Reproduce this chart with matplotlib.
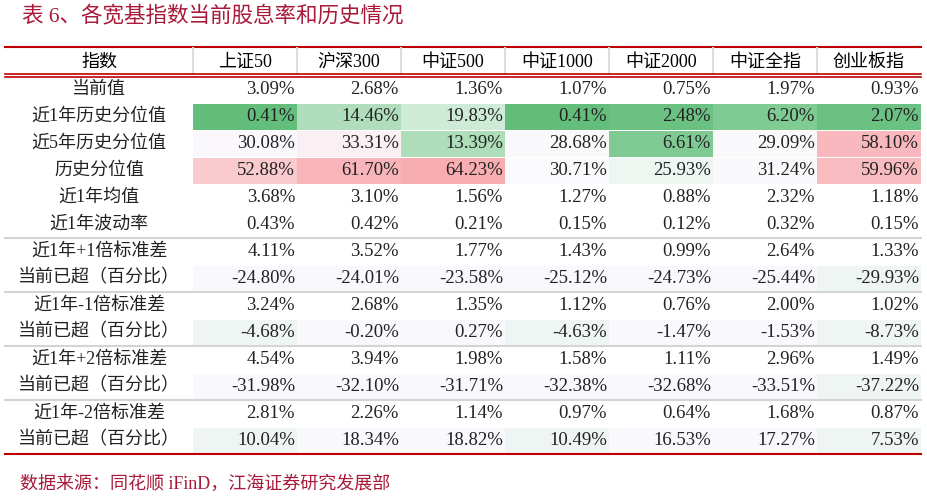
import matplotlib
matplotlib.use("Agg")
import matplotlib.pyplot as plt
from matplotlib.patches import Rectangle

FAM = ['Liberation Serif', 'Noto Sans CJK SC']
title = "表 6、各宽基指数当前股息率和历史情况"
source = "数据来源：同花顺 iFinD，江海证券研究发展部"
columns = ["上证50", "沪深300", "中证500", "中证1000", "中证2000", "中证全指", "创业板指"]
row_labels = ["当前值", "近1年历史分位值", "近5年历史分位值", "历史分位值", "近1年均值", "近1年波动率",
              "近1年+1倍标准差", "当前已超（百分比）", "近1年-1倍标准差", "当前已超（百分比）",
              "近1年+2倍标准差", "当前已超（百分比）", "近1年-2倍标准差", "当前已超（百分比）"]
values = [
    [3.09, 2.68, 1.36, 1.07, 0.75, 1.97, 0.93],
    [0.41, 14.46, 19.83, 0.41, 2.48, 6.20, 2.07],
    [30.08, 33.31, 13.39, 28.68, 6.61, 29.09, 58.10],
    [52.88, 61.70, 64.23, 30.71, 25.93, 31.24, 59.96],
    [3.68, 3.10, 1.56, 1.27, 0.88, 2.32, 1.18],
    [0.43, 0.42, 0.21, 0.15, 0.12, 0.32, 0.15],
    [4.11, 3.52, 1.77, 1.43, 0.99, 2.64, 1.33],
    [-24.80, -24.01, -23.58, -25.12, -24.73, -25.44, -29.93],
    [3.24, 2.68, 1.35, 1.12, 0.76, 2.00, 1.02],
    [-4.68, -0.20, 0.27, -4.63, -1.47, -1.53, -8.73],
    [4.54, 3.94, 1.98, 1.58, 1.11, 2.96, 1.49],
    [-31.98, -32.10, -31.71, -32.38, -32.68, -33.51, -37.22],
    [2.81, 2.26, 1.14, 0.97, 0.64, 1.68, 0.87],
    [10.04, 18.34, 18.82, 10.49, 16.53, 17.27, 7.53],
]
W, L, G = "#FFFFFF", "#F9F9FD", "#EFF5F2"
fills = [
    [W]*7,
    ["#63BE7B", "#B0DEBC", "#CDEBD6", "#63BE7B", "#6BC182", "#80CA94", "#6AC181"],
    ["#FAF8FC", "#FAEFF3", "#ADDDB9", "#F9F9FC", "#7FCA93", "#F9F9FC", "#F8B8BD"],
    ["#F9CBCF", "#F8B5B9", "#F8ADB1", "#FAF9FC", "#EEF6F1", "#F9F8FB", "#F8BBBF"],
    [W]*7, [W]*7, [W]*7,
    [L, L, L, L, L, L, G],
    [W]*7,
    [G, L, L, G, L, L, G],
    [W]*7,
    [L, L, L, L, L, L, G],
    [W]*7,
    [G, L, L, G, L, L, G],
]

fig = plt.figure(figsize=(9.28, 4.98), dpi=100)
ax = fig.add_axes([0, 0, 1, 1])
ax.set_xlim(0, 928); ax.set_ylim(498, 0); ax.axis("off")
red = "#C00000"
ax.text(22, 17, title, family=FAM, fontsize=15.5, color="#A8193A", va="center", ha="left")

x0, lab_w, col_w = 5, 188, 104
hdr_top, hdr_bot = 47, 75
row_h = 27.0
body_top = 75.5
ax.plot([x0, 921], [hdr_top, hdr_top], color=red, lw=1.5)
for i in range(len(columns)):
    xl = x0 + lab_w + i*col_w
    ax.plot([xl, xl], [hdr_top+1, hdr_bot-1], color="#DDDDDD", lw=1.5)
    ax.text(xl + col_w/2, (hdr_top+hdr_bot)/2+1, columns[i], family=FAM, fontsize=13, ha="center", va="center")
ax.text(x0 + lab_w/2, (hdr_top+hdr_bot)/2+1, "指数", family=FAM, fontsize=13, ha="center", va="center")
ax.plot([x0, 921], [hdr_bot-1, hdr_bot-1], color=red, lw=1.2)
ax.plot([x0, 921], [hdr_bot+1.5, hdr_bot+1.5], color=red, lw=1.2)

for r, lab in enumerate(row_labels):
    yt = body_top + r*row_h
    yc = yt + row_h/2
    for c in range(len(columns)):
        xl = x0 + lab_w + c*col_w
        ax.add_patch(Rectangle((xl, yt+1), col_w, row_h-1, color=fills[r][c], lw=0))
        ax.text(xl + col_w - 2, yc, f"{values[r][c]:.2f}%", family=FAM, fontsize=13.5, ha="right", va="center", color="#222222")
    ax.text(x0 + lab_w/2, yc, lab, family=FAM, fontsize=13, ha="center", va="center", color="#222222")
    if r in (5, 7, 9, 11):
        ax.plot([x0, 921], [yt+row_h, yt+row_h], color="#D4D4D4", lw=1.5)
yb = body_top + len(row_labels)*row_h
ax.plot([x0, 921], [yb, yb], color=red, lw=1.5)
ax.text(20, 484, source, family=FAM, fontsize=13, color="#A8193A", va="center", ha="left")
fig.savefig("out.png", dpi=100)
